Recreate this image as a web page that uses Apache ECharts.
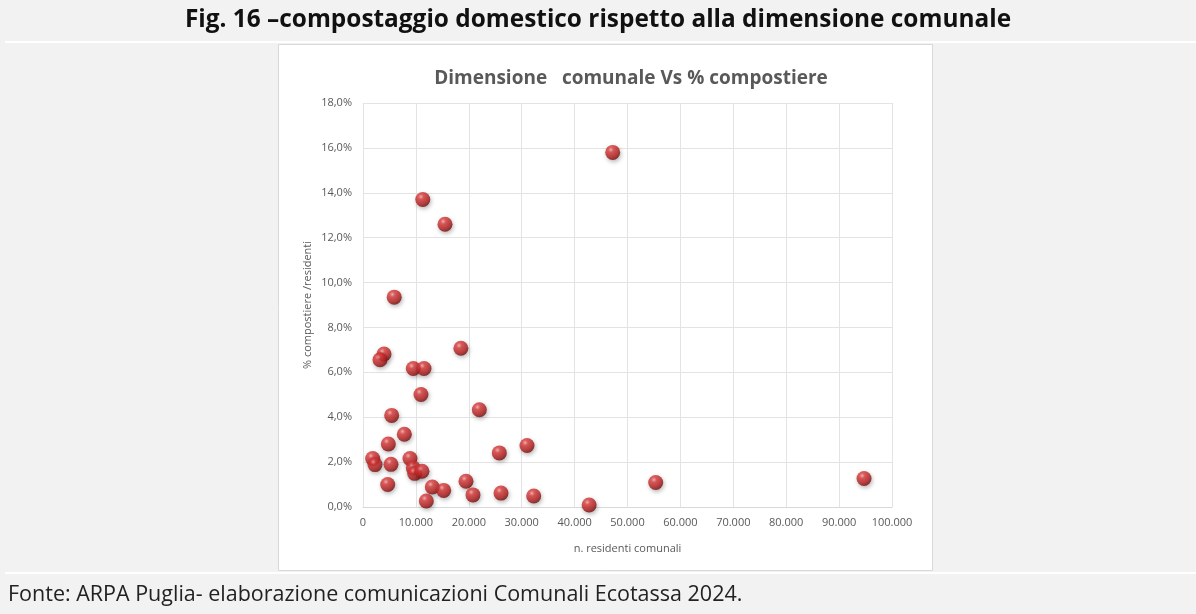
<!DOCTYPE html>
<html>
<head>
<meta charset="utf-8">
<script src="https://cdn.jsdelivr.net/npm/echarts@6/dist/echarts.min.js"></script>
<style>
  html, body { margin: 0; padding: 0; background: #f2f2f2; }
  #chart { width: 1196px; height: 614px; }
</style>
</head>
<body>
<div id="chart"></div>
<script>
// Residenti per comune (asse X) e % compostiere su residenti (asse Y)
const residenti = [
  47200, 11300, 15500, 5900, 18500, 3970, 3210, 9510, 11530, 10960,
  21990, 5420, 7810, 4790, 25770, 31000, 1830, 2270, 5290, 8880,
  9510, 9770, 11150, 19470, 4670, 13100, 15250, 20790, 26090, 32270,
  11970, 42750, 55330, 94710
];
const percCompostiere = [
  15.8, 13.7, 12.6, 9.35, 7.07, 6.82, 6.56, 6.17, 6.17, 5.01,
  4.33, 4.08, 3.24, 2.81, 2.41, 2.74, 2.16, 1.89, 1.90, 2.16,
  1.74, 1.50, 1.59, 1.15, 1.00, 0.89, 0.74, 0.54, 0.62, 0.49,
  0.27, 0.09, 1.09, 1.27
];
const xTicks = { min: 0, max: 100000, step: 10000 };
const yTicks = { min: 0, max: 18, step: 2 };

const figTitle = 'Fig. 16 \u2013compostaggio domestico rispetto alla dimensione comunale';
const chartTitle = 'Dimensione   comunale Vs % compostiere';
const fonte = 'Fonte: ARPA Puglia- elaborazione comunicazioni Comunali Ecotassa 2024.';

const points = residenti.map((x, i) => [x, percCompostiere[i]]);

const fmtThousands = v => String(Math.round(v)).replace(/\B(?=(\d{3})+(?!\d))/g, '.');
const fmtPerc = v => v.toFixed(1).replace('.', ',') + '%';

// shaded red sphere for each marker
const sphere = new echarts.graphic.RadialGradient(0.38, 0.32, 0.7, [
  { offset: 0, color: '#f6a8a8' },
  { offset: 0.25, color: '#dc3c3c' },
  { offset: 0.7, color: '#b41e1e' },
  { offset: 1, color: '#700b0b' }
]);

const chart = echarts.init(document.getElementById('chart'));
chart.setOption({
  backgroundColor: '#f2f2f2',
  animation: false,
  graphic: [
    { type: 'rect', z: -10, shape: { x: 5, y: 41, width: 1191, height: 2 }, style: { fill: '#ffffff' } },
    { type: 'rect', z: -10, shape: { x: 5, y: 572, width: 1191, height: 2 }, style: { fill: '#ffffff' } },
    { type: 'rect', z: -9, shape: { x: 278.5, y: 44.5, width: 654, height: 526 },
      style: { fill: '#ffffff', stroke: '#d9d9d9', lineWidth: 1 } },
    { type: 'text', left: 'center', top: 8,
      style: { text: figTitle, font: 'bold 24.4px "Open Sans"', fill: '#111111' } },
    { type: 'text', left: 8, top: 584,
      style: { text: fonte, font: '21.5px "Open Sans"', fill: '#222222' } }
  ],
  title: {
    text: chartTitle,
    left: 626, textAlign: 'center', top: 64,
    textStyle: { fontFamily: '"Open Sans"', fontSize: 19, fontWeight: 'bold', color: '#595959' }
  },
  grid: { left: 363, right: 304, top: 103, bottom: 107, containLabel: false },
  xAxis: {
    type: 'value',
    min: xTicks.min, max: xTicks.max, interval: xTicks.step,
    name: 'n. residenti comunali',
    nameLocation: 'middle', nameGap: 36,
    nameTextStyle: { fontFamily: '"Open Sans"', fontSize: 11, color: '#595959' },
    axisLine: { show: true, lineStyle: { color: '#d9d9d9' } },
    axisTick: { show: false },
    axisLabel: { formatter: fmtThousands, fontFamily: '"Open Sans"', fontSize: 11, color: '#595959', margin: 10 },
    splitLine: { show: true, lineStyle: { color: '#e3e3e3' } }
  },
  yAxis: {
    type: 'value',
    min: yTicks.min, max: yTicks.max, interval: yTicks.step,
    name: '% compostiere /residenti',
    nameLocation: 'middle', nameGap: 50, nameRotate: 90,
    nameTextStyle: { fontFamily: '"Open Sans"', fontSize: 11, color: '#595959' },
    axisLine: { show: false },
    axisTick: { show: false },
    axisLabel: { formatter: fmtPerc, fontFamily: '"Open Sans"', fontSize: 11, color: '#595959', margin: 11 },
    splitLine: { show: true, lineStyle: { color: '#e3e3e3' } }
  },
  series: [{
    type: 'scatter',
    data: points,
    symbolSize: 15,
    itemStyle: {
      color: sphere,
      shadowBlur: 4,
      shadowColor: 'rgba(0,0,0,0.35)',
      shadowOffsetX: 1,
      shadowOffsetY: 2
    }
  }]
});
</script>
</body>
</html>
